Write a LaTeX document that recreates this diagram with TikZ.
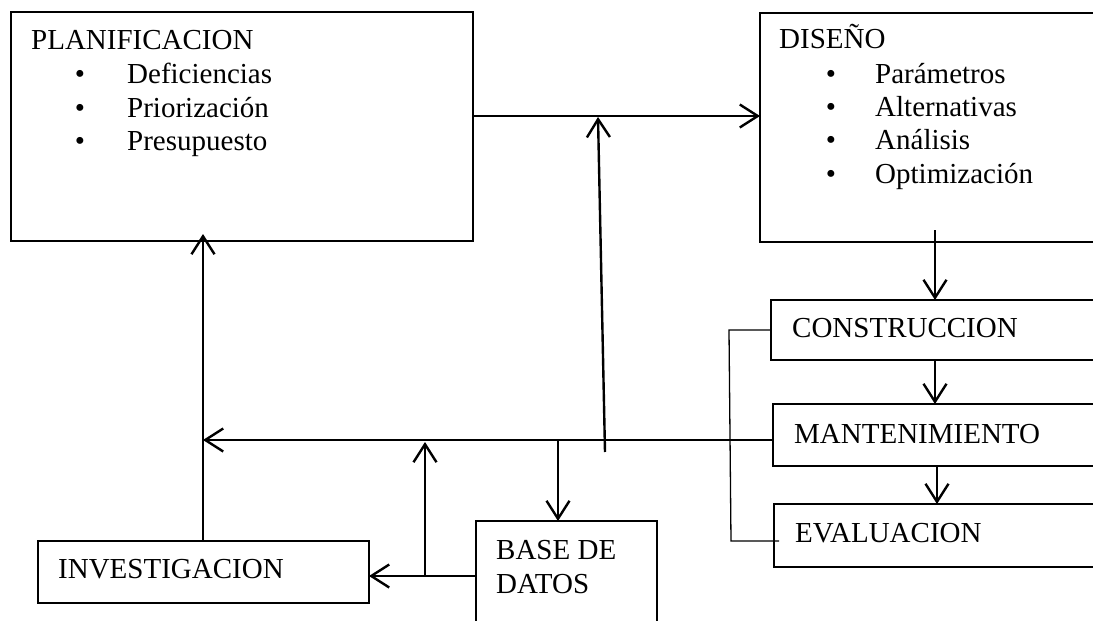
\documentclass[tikz,border=0pt]{standalone}
\usepackage{fontspec}
\setmainfont{Liberation Serif}
\usetikzlibrary{arrows.meta}
\begin{document}
\begin{tikzpicture}[x=1pt,y=-1pt,
  box/.style={draw=black, line width=1.2pt, anchor=north west, inner sep=0pt, outer sep=0pt},
  txt/.style={font=\fontsize{29pt}{35pt}\selectfont, anchor=base west, inner sep=0pt},
  bul/.style={font=\fontsize{29pt}{35pt}\selectfont, anchor=base, inner sep=0pt},
  arr/.style={line width=2.4pt, -{Straight Barb[length=18pt,width=23pt]}},
  thinln/.style={line width=1.3pt}]
\useasboundingbox (0,0) rectangle (1093,621);
\fill[white] (0,0) rectangle (1093,621);

% boxes
\node[box, minimum width=462pt, minimum height=229pt] (plan) at (11,12) {};
\node[box, minimum width=350pt, minimum height=229pt] (diseno) at (760,13) {};
\node[box, minimum width=339pt, minimum height=60pt] (cons) at (771,300) {};
\node[box, minimum width=337pt, minimum height=62pt] (mant) at (773,404) {};
\node[box, minimum width=336pt, minimum height=63pt] (eval) at (774,504) {};
\node[box, minimum width=331pt, minimum height=62pt] (inv) at (38,541) {};
\node[box, minimum width=181pt, minimum height=120pt] (base) at (476,521) {};

% texts
\node[txt] (tplan) at (31,49) {PLANIFICACION};
\node[bul] (bp1) at (80,83) {•};
\node[txt] (tp1) at (127,83) {Deficiencias};
\node[bul] (bp2) at (80,117) {•};
\node[txt] (tp2) at (127,117) {Priorización};
\node[bul] (bp3) at (80,150) {•};
\node[txt] (tp3) at (127,150) {Presupuesto};

\node[txt] (tdis) at (779,48) {DISEÑO};
\node[bul] (bd1) at (831,83) {•};
\node[txt] (td1) at (875,83) {Parámetros};
\node[bul] (bd2) at (831,116) {•};
\node[txt] (td2) at (875,116) {Alternativas};
\node[bul] (bd3) at (831,149) {•};
\node[txt] (td3) at (875,149) {Análisis};
\node[bul] (bd4) at (831,183) {•};
\node[txt] (td4) at (875,183) {Optimización};

\node[txt] (tcons) at (792,337) {CONSTRUCCION};
\node[txt] (tmant) at (794,443) {MANTENIMIENTO};
\node[txt] (teval) at (795,542) {EVALUACION};
\node[txt] (tinv) at (58,578) {INVESTIGACION};
\node[txt] (tbase1) at (496,559) {BASE DE};
\node[txt] (tbase2) at (496,593) {DATOS};

% helper coordinates
\coordinate (sbot) at (605,452);
\coordinate (stop) at (598,117);
\coordinate (dtop) at (935,230);
\coordinate (jup) at (425,576);
\coordinate (jupend) at (425,442);
\coordinate (bdown) at (558,440);
\coordinate (brk1) at (729,330);
\coordinate (brk2) at (731,541);
\coordinate (brk3) at (779,541);

% connectors
\draw[arr] (plan.east |- 0,116) -- (diseno.west |- 0,116);
\draw[arr] (sbot) -- (stop);
\draw[arr] (dtop) -- (dtop |- cons.north);
\draw[arr] (cons.south -| 935,0) -- (mant.north -| 935,0);
\draw[arr] (mant.south -| 937,0) -- (eval.north -| 937,0);
\draw[thinln] (cons.west |- 0,330) -- (brk1) -- (brk2) -- (brk3);
\draw[arr] (mant.west |- 0,440) -- (203,440);
\draw[arr, shorten >=-7pt] (inv.north -| 203,0) -- (plan.south -| 203,0);
\draw[arr] (base.west |- 0,576) -- (inv.east |- 0,576);
\draw[arr] (jup) -- (jupend);
\draw[arr] (bdown) -- (bdown |- base.north);
\end{tikzpicture}
\end{document}
